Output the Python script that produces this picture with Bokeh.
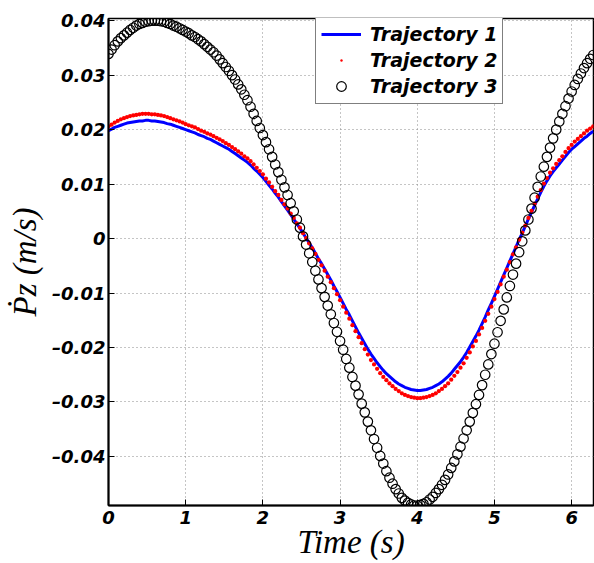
import numpy as np
from bokeh.plotting import figure
from bokeh.models import (Range1d, FixedTicker, CustomJSTickFormatter, Legend,
                          LegendItem)
from bokeh.embed import file_html
from bokeh.resources import INLINE

# ---------------- data ----------------
time_step = 0.04  # s, sampling step of the three trajectories (t = 0 ... 6.28)

trajectory_1 = [
    0.0198, 0.0201, 0.0204, 0.0206, 0.0208, 0.0210, 0.0212, 0.0213, 0.0214, 0.0215,
    0.0216, 0.0216, 0.0217, 0.0217, 0.0216, 0.0216, 0.0215, 0.0214, 0.0213, 0.0211,
    0.0210, 0.0208, 0.0206, 0.0204, 0.0202, 0.0200, 0.0198, 0.0196, 0.0194, 0.0191,
    0.0189, 0.0187, 0.0184, 0.0182, 0.0179, 0.0176, 0.0173, 0.0170, 0.0167, 0.0164,
    0.0160, 0.0156, 0.0152, 0.0148, 0.0144, 0.0140, 0.0135, 0.0129, 0.0124, 0.0118,
    0.0112, 0.0105, 0.0098, 0.0091, 0.0083, 0.0076, 0.0068, 0.0060, 0.0052, 0.0044,
    0.0036, 0.0027, 0.0019, 0.0010, 0.0001, -0.0008, -0.0017, -0.0027, -0.0037, -0.0046,
    -0.0056, -0.0066, -0.0076, -0.0087, -0.0097, -0.0108, -0.0119, -0.0130, -0.0140, -0.0151,
    -0.0162, -0.0173, -0.0183, -0.0193, -0.0203, -0.0212, -0.0220, -0.0228, -0.0235, -0.0242,
    -0.0248, -0.0253, -0.0258, -0.0263, -0.0267, -0.0270, -0.0273, -0.0275, -0.0277, -0.0278,
    -0.0279, -0.0279, -0.0278, -0.0277, -0.0275, -0.0273, -0.0270, -0.0267, -0.0263, -0.0258,
    -0.0253, -0.0247, -0.0240, -0.0233, -0.0226, -0.0218, -0.0209, -0.0199, -0.0189, -0.0179,
    -0.0168, -0.0156, -0.0144, -0.0131, -0.0119, -0.0106, -0.0093, -0.0080, -0.0067, -0.0054,
    -0.0041, -0.0028, -0.0015, -0.0002, 0.0010, 0.0023, 0.0036, 0.0048, 0.0061, 0.0073,
    0.0085, 0.0096, 0.0106, 0.0115, 0.0123, 0.0130, 0.0137, 0.0144, 0.0151, 0.0158,
    0.0164, 0.0169, 0.0174, 0.0179, 0.0184, 0.0188, 0.0193, 0.0197,
]

trajectory_2 = [
    0.0206, 0.0209, 0.0213, 0.0216, 0.0219, 0.0221, 0.0223, 0.0225, 0.0226, 0.0227,
    0.0228, 0.0229, 0.0229, 0.0229, 0.0228, 0.0228, 0.0227, 0.0226, 0.0225, 0.0223,
    0.0221, 0.0219, 0.0217, 0.0215, 0.0213, 0.0210, 0.0208, 0.0206, 0.0204, 0.0201,
    0.0198, 0.0196, 0.0193, 0.0191, 0.0188, 0.0185, 0.0182, 0.0179, 0.0175, 0.0172,
    0.0168, 0.0164, 0.0160, 0.0156, 0.0151, 0.0147, 0.0142, 0.0136, 0.0130, 0.0124,
    0.0118, 0.0110, 0.0103, 0.0095, 0.0087, 0.0080, 0.0071, 0.0063, 0.0055, 0.0046,
    0.0038, 0.0028, 0.0020, 0.0010, 0.0001, -0.0009, -0.0018, -0.0028, -0.0039, -0.0049,
    -0.0059, -0.0070, -0.0080, -0.0091, -0.0102, -0.0113, -0.0125, -0.0136, -0.0147, -0.0159,
    -0.0170, -0.0181, -0.0192, -0.0203, -0.0213, -0.0223, -0.0231, -0.0239, -0.0247, -0.0254,
    -0.0260, -0.0266, -0.0271, -0.0276, -0.0280, -0.0284, -0.0287, -0.0289, -0.0291, -0.0292,
    -0.0293, -0.0293, -0.0292, -0.0291, -0.0289, -0.0287, -0.0284, -0.0280, -0.0276, -0.0271,
    -0.0266, -0.0259, -0.0252, -0.0245, -0.0237, -0.0229, -0.0219, -0.0209, -0.0198, -0.0188,
    -0.0176, -0.0164, -0.0151, -0.0138, -0.0125, -0.0111, -0.0098, -0.0084, -0.0070, -0.0057,
    -0.0043, -0.0029, -0.0016, -0.0002, 0.0011, 0.0024, 0.0038, 0.0051, 0.0064, 0.0077,
    0.0089, 0.0101, 0.0111, 0.0121, 0.0129, 0.0137, 0.0144, 0.0151, 0.0159, 0.0166,
    0.0172, 0.0178, 0.0183, 0.0188, 0.0193, 0.0198, 0.0202, 0.0206,
]

trajectory_3 = [
    0.0339, 0.0347, 0.0355, 0.0362, 0.0368, 0.0373, 0.0378, 0.0383, 0.0387, 0.0391,
    0.0394, 0.0396, 0.0398, 0.0399, 0.0400, 0.0400, 0.0400, 0.0399, 0.0398, 0.0396,
    0.0394, 0.0391, 0.0389, 0.0386, 0.0383, 0.0380, 0.0377, 0.0373, 0.0370, 0.0366,
    0.0362, 0.0357, 0.0352, 0.0347, 0.0342, 0.0336, 0.0329, 0.0322, 0.0315, 0.0308,
    0.0300, 0.0292, 0.0283, 0.0274, 0.0264, 0.0254, 0.0242, 0.0229, 0.0216, 0.0203,
    0.0190, 0.0177, 0.0164, 0.0150, 0.0136, 0.0122, 0.0108, 0.0094, 0.0080, 0.0065,
    0.0050, 0.0035, 0.0020, 0.0004, -0.0011, -0.0027, -0.0043, -0.0059, -0.0075, -0.0091,
    -0.0107, -0.0123, -0.0139, -0.0155, -0.0171, -0.0188, -0.0204, -0.0221, -0.0237, -0.0254,
    -0.0270, -0.0286, -0.0303, -0.0319, -0.0336, -0.0352, -0.0368, -0.0384, -0.0399, -0.0413,
    -0.0427, -0.0439, -0.0450, -0.0460, -0.0468, -0.0476, -0.0481, -0.0485, -0.0488, -0.0490,
    -0.0490, -0.0489, -0.0487, -0.0484, -0.0479, -0.0474, -0.0467, -0.0460, -0.0452, -0.0443,
    -0.0433, -0.0421, -0.0409, -0.0396, -0.0382, -0.0367, -0.0352, -0.0336, -0.0320, -0.0304,
    -0.0287, -0.0269, -0.0250, -0.0231, -0.0212, -0.0193, -0.0172, -0.0151, -0.0130, -0.0108,
    -0.0087, -0.0066, -0.0046, -0.0025, -0.0005, 0.0015, 0.0035, 0.0055, 0.0075, 0.0095,
    0.0114, 0.0132, 0.0150, 0.0167, 0.0184, 0.0200, 0.0215, 0.0229, 0.0243, 0.0257,
    0.0270, 0.0282, 0.0293, 0.0303, 0.0313, 0.0322, 0.0330, 0.0337,
]

series_labels = ["Trajectory 1", "Trajectory 2", "Trajectory 3"]
x_ticks = [0, 1, 2, 3, 4, 5, 6]
y_ticks = [-0.04, -0.03, -0.02, -0.01, 0.0, 0.01, 0.02, 0.03, 0.04]
x_label = "Time (s)"
y_label = "\u1E56z (m/s)"

assert len(trajectory_1) == len(trajectory_2) == len(trajectory_3)
time = np.round(np.arange(len(trajectory_1)) * time_step, 2)

# ---------------- figure ----------------
W, H = 594, 563
MB_L, MB_R, MB_T, MB_B = 108, 1, 18, 58
frame_h = H - MB_T - MB_B

p = figure(width=W, height=H, output_backend="svg", toolbar_location=None,
           x_range=Range1d(0, 6.2832), y_range=Range1d(-0.049, 0.0404),
           min_border_left=MB_L, min_border_right=MB_R,
           min_border_top=MB_T, min_border_bottom=MB_B)
p.background_fill_color = "white"
p.border_fill_color = "white"
p.outline_line_color = "black"
p.outline_line_width = 1.5

r1 = p.line(time, trajectory_1, line_color="#0000ff", line_width=3)
# "dot" marker: filled with the line colour, radius = size / 8
r2 = p.scatter(time, trajectory_2, marker="dot", size=17,
               line_color="#ff0000", fill_color="#ff0000")
r3 = p.scatter(time, trajectory_3, marker="circle", size=9.5,
               fill_color=None, line_color="black", line_width=1.2)

# axes
tick_font = "DejaVu Sans"
for ax in (p.xaxis[0], p.yaxis[0]):
    ax.major_label_text_font = tick_font
    ax.major_label_text_font_style = "bold italic"
    ax.major_label_text_font_size = "18px"
    ax.major_label_text_color = "black"
    ax.axis_line_color = "black"
    ax.axis_line_width = 2
    ax.major_tick_in = 6
    ax.major_tick_out = 0
    ax.major_tick_line_color = "black"
    ax.major_tick_line_width = 1
    ax.minor_tick_line_color = None
    ax.axis_label_text_font = "Liberation Serif"
    ax.axis_label_text_font_style = "italic"
    ax.axis_label_text_font_size = "33px"
    ax.axis_label_text_color = "black"

p.xaxis[0].ticker = FixedTicker(ticks=x_ticks)
p.yaxis[0].ticker = FixedTicker(ticks=y_ticks)
p.xaxis[0].major_label_standoff = 5
p.yaxis[0].major_label_standoff = 3
p.xaxis[0].axis_label_standoff = -3
p.yaxis[0].axis_label_standoff = 6
p.xaxis[0].axis_label = x_label
p.yaxis[0].axis_label = y_label
p.yaxis[0].formatter = CustomJSTickFormatter(code="""
    if (Math.abs(tick) < 1e-9) { return "0"; }
    return tick.toFixed(2).replace("-", "\u2013");
""")
p.xaxis[0].formatter = CustomJSTickFormatter(code="""
    return Math.round(tick).toString();
""")

# grid
p.xgrid[0].ticker = FixedTicker(ticks=x_ticks)
p.ygrid[0].ticker = FixedTicker(ticks=y_ticks)
for g in (p.xgrid[0], p.ygrid[0]):
    g.grid_line_color = "#8a8a8a"
    g.grid_line_dash = "1 3"
    g.grid_line_width = 1

# legend
leg_h = 86
legend = Legend(
    items=[LegendItem(label=series_labels[0], renderers=[r1]),
           LegendItem(label=series_labels[1], renderers=[r2]),
           LegendItem(label=series_labels[2], renderers=[r3])],
    location=(207, frame_h - leg_h),
)
legend.label_text_font = tick_font
legend.label_text_font_style = "bold italic"
legend.label_text_font_size = "19px"
legend.label_text_color = "black"
legend.glyph_width = 40
legend.glyph_height = 24
legend.label_height = 24
legend.label_standoff = 9
legend.spacing = 2
legend.padding = 5
legend.margin = 0
legend.border_line_color = "black"
legend.border_line_width = 1.5
legend.background_fill_color = "white"
legend.background_fill_alpha = 1
p.add_layout(legend)

open("out.html", "w").write(file_html(p, INLINE))
